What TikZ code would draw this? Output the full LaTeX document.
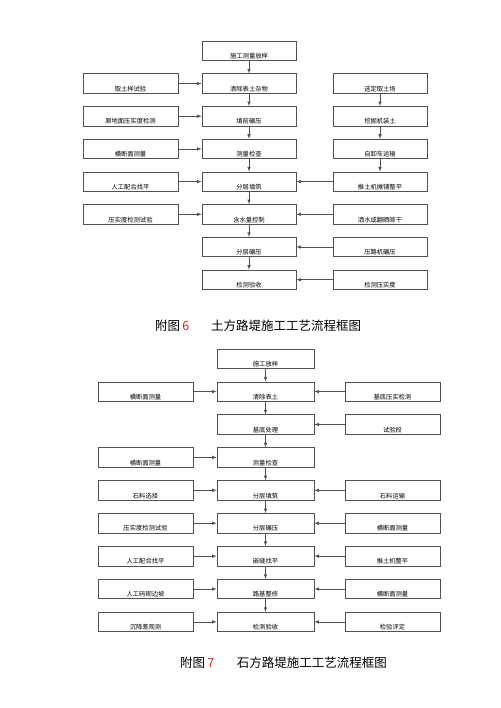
\documentclass[tikz,border=0pt]{standalone}
\usepackage{fontspec}
\setmainfont{Noto Sans CJK SC}
\usepackage{xcolor}
\usetikzlibrary{arrows,positioning}
\definecolor{linegray}{HTML}{505050}
\definecolor{capred}{HTML}{D62828}
\tikzstyle{flowbox} = [rectangle, draw=linegray, line width=0.6pt, minimum width=95pt, minimum height=19.5pt, inner sep=0pt, text height=15.5pt, text depth=0pt, font=\fontsize{6.3}{7}\selectfont]
\tikzstyle{midbox} = [flowbox, minimum width=94pt]
\tikzstyle{flow} = [->, >=latex, draw=linegray, line width=0.6pt]
\tikzstyle{caption} = [anchor=west, inner sep=0pt, font=\fontsize{12.5}{14}\selectfont]

\begin{document}
\begin{tikzpicture}[x=1pt, y=-1pt]
    \useasboundingbox[fill=white] (0,0) rectangle (500,708);
    % figure 6: earth embankment
    \node[midbox] (a1) at (249, 50.8) {施工测量放样};
    \node[midbox] (a2) at (249, 83.5) {清除表土杂物};
    \node[midbox] (a3) at (249, 116.2) {填前碾压};
    \node[midbox] (a4) at (249, 148.9) {测量检查};
    \node[midbox] (a5) at (249, 181.6) {分层填筑};
    \node[midbox] (a6) at (249, 214.3) {含水量控制};
    \node[midbox] (a7) at (249, 247.0) {分层碾压};
    \node[midbox] (a8) at (249, 279.7) {检测验收};
    \node[flowbox] (al2) at (130.5, 83.5) {取土样试验};
    \node[flowbox] (al3) at (130.5, 116.2) {原地面压实度检测};
    \node[flowbox] (al4) at (130.5, 148.9) {横断面测量};
    \node[flowbox] (al5) at (130.5, 181.6) {人工配合找平};
    \node[flowbox] (al6) at (130.5, 214.3) {压实度检测试验};
    \node[midbox] (ar2) at (380, 83.5) {选定取土场};
    \node[midbox] (ar3) at (380, 116.2) {挖掘机装土};
    \node[midbox] (ar4) at (380, 148.9) {自卸车运输};
    \node[midbox] (ar5) at (380, 181.6) {推土机摊铺整平};
    \node[midbox] (ar6) at (380, 214.3) {洒水或翻晒晾干};
    \node[midbox] (ar7) at (380, 247.0) {压路机碾压};
    \node[midbox] (ar8) at (380, 279.7) {检测压实度};
    \draw[flow] (a1) -- (a2);
    \draw[flow] (a2) -- (a3);
    \draw[flow] (a3) -- (a4);
    \draw[flow] (a4) -- (a5);
    \draw[flow] (a5) -- (a6);
    \draw[flow] (a6) -- (a7);
    \draw[flow] (a7) -- (a8);
    \draw[flow] (al2) -- (a2);
    \draw[flow] (al3) -- (a3);
    \draw[flow] (al4) -- (a4);
    \draw[flow] (al5) -- (a5);
    \draw[flow] (al6) -- (a6);
    \draw[flow] (ar2) -- (ar3);
    \draw[flow] (ar3) -- (ar4);
    \draw[flow] (ar4) -- (ar5);
    \draw[flow] (ar5) -- (a5);
    \draw[flow] (ar6) -- (a6);
    \draw[flow] (ar7) -- (a7);
    \draw[flow] (ar8) -- (a8);
    \node[caption] (cap6) at (155, 326) {附图\,\textcolor{capred}{6}};
    \node[caption] (title6) at (211, 326) {土方路堤施工工艺流程框图};
    % figure 7: rock embankment
    \node[flowbox, minimum width=97pt] (b1) at (265.5, 358.7) {施工放样};
    \node[flowbox, minimum width=97pt] (b2) at (265.5, 391.6) {清除表土};
    \node[flowbox, minimum width=97pt] (b3) at (265.5, 424.5) {基底处理};
    \node[flowbox, minimum width=97pt] (b4) at (265.5, 457.4) {测量检查};
    \node[flowbox, minimum width=97pt] (b5) at (265.5, 490.3) {分层填筑};
    \node[flowbox, minimum width=97pt] (b6) at (265.5, 523.2) {分层碾压};
    \node[flowbox, minimum width=97pt] (b7) at (265.5, 556.1) {嵌缝找平};
    \node[flowbox, minimum width=97pt] (b8) at (265.5, 589.0) {路基整修};
    \node[flowbox, minimum width=97pt] (b9) at (265.5, 621.9) {检测验收};
    \node[flowbox] (bl2) at (145.5, 391.6) {横断面测量};
    \node[flowbox] (bl4) at (145.5, 457.4) {横断面测量};
    \node[flowbox] (bl5) at (145.5, 490.3) {石料选择};
    \node[flowbox] (bl6) at (145.5, 523.2) {压实度检测试验};
    \node[flowbox] (bl7) at (145.5, 556.1) {人工配合找平};
    \node[flowbox] (bl8) at (145.5, 589.0) {人工码砌边坡};
    \node[flowbox] (bl9) at (145.5, 621.9) {沉降差观测};
    \node[flowbox] (br2) at (392.5, 391.6) {基底压实检测};
    \node[flowbox] (br3) at (392.5, 424.5) {试验段};
    \node[flowbox] (br5) at (392.5, 490.3) {石料运输};
    \node[flowbox] (br6) at (392.5, 523.2) {横断面测量};
    \node[flowbox] (br7) at (392.5, 556.1) {推土机整平};
    \node[flowbox] (br8) at (392.5, 589.0) {横断面测量};
    \node[flowbox] (br9) at (392.5, 621.9) {检验评定};
    \draw[flow] (b1) -- (b2);
    \draw[flow] (b2) -- (b3);
    \draw[flow] (b3) -- (b4);
    \draw[flow] (b4) -- (b5);
    \draw[flow] (b5) -- (b6);
    \draw[flow] (b6) -- (b7);
    \draw[flow] (b7) -- (b8);
    \draw[flow] (b8) -- (b9);
    \draw[flow] (bl2) -- (b2);
    \draw[flow] (bl4) -- (b4);
    \draw[flow] (bl5) -- (b5);
    \draw[flow] (bl6) -- (b6);
    \draw[flow] (bl7) -- (b7);
    \draw[flow] (bl8) -- (b8);
    \draw[flow] (bl9) -- (b9);
    \draw[flow] (br2) -- (b2);
    \draw[flow] (br3) -- (b3);
    \draw[flow] (br5) -- (b5);
    \draw[flow] (br6) -- (b6);
    \draw[flow] (br7) -- (b7);
    \draw[flow] (br8) -- (b8);
    \draw[flow] (br9) -- (b9);
    \node[caption] (cap7) at (180, 662.7) {附图\,\textcolor{capred}{7}};
    \node[caption] (title7) at (236.7, 662.7) {石方路堤施工工艺流程框图};
\end{tikzpicture}
\end{document}
